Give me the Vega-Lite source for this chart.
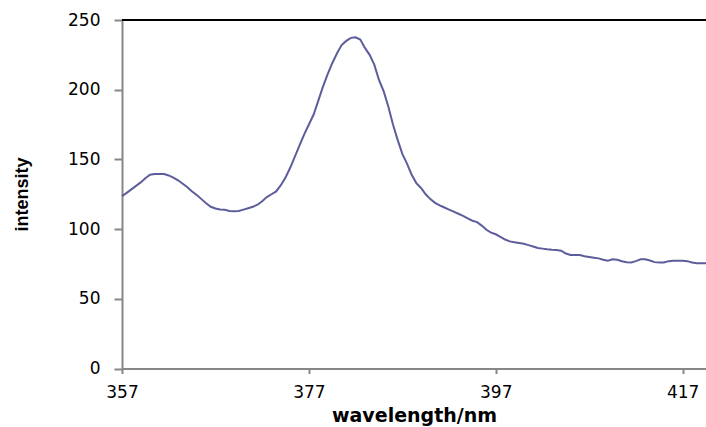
{
  "$schema": "https://vega.github.io/schema/vega-lite/v6.json",
  "width": 584,
  "height": 348.5,
  "autosize": {"type": "none"},
  "padding": {"left": 122, "top": 20, "right": 0, "bottom": 58},
  "background": "white",
  "config": {
    "view": {"stroke": null},
    "axis": {
      "grid": false,
      "domainColor": "#878787",
      "domainWidth": 2,
      "tickColor": "#878787",
      "tickWidth": 2,
      "labelFont": "DejaVu Sans",
      "labelFontSize": 17,
      "labelColor": "black",
      "titleColor": "black"
    }
  },
  "data": {
    "values": [
      {"wavelength": 357, "intensity": 123.7},
      {"wavelength": 357.5, "intensity": 126},
      {"wavelength": 358, "intensity": 128.5},
      {"wavelength": 358.5, "intensity": 131},
      {"wavelength": 359, "intensity": 133.5},
      {"wavelength": 359.5, "intensity": 136.5},
      {"wavelength": 360, "intensity": 139},
      {"wavelength": 360.5, "intensity": 139.5},
      {"wavelength": 361, "intensity": 139.5},
      {"wavelength": 361.5, "intensity": 139.5},
      {"wavelength": 362, "intensity": 138.5},
      {"wavelength": 362.5, "intensity": 137},
      {"wavelength": 363, "intensity": 135},
      {"wavelength": 363.5, "intensity": 132.5},
      {"wavelength": 364, "intensity": 130},
      {"wavelength": 364.5, "intensity": 127},
      {"wavelength": 365, "intensity": 124.5},
      {"wavelength": 365.5, "intensity": 121.5},
      {"wavelength": 366, "intensity": 118.5},
      {"wavelength": 366.5, "intensity": 116},
      {"wavelength": 367, "intensity": 114.8},
      {"wavelength": 367.5, "intensity": 114},
      {"wavelength": 368, "intensity": 113.8},
      {"wavelength": 368.5, "intensity": 113},
      {"wavelength": 369, "intensity": 112.8},
      {"wavelength": 369.5, "intensity": 113},
      {"wavelength": 370, "intensity": 114},
      {"wavelength": 370.5, "intensity": 115},
      {"wavelength": 371, "intensity": 116},
      {"wavelength": 371.5, "intensity": 117.5},
      {"wavelength": 372, "intensity": 120},
      {"wavelength": 372.5, "intensity": 123},
      {"wavelength": 373, "intensity": 125},
      {"wavelength": 373.5, "intensity": 127},
      {"wavelength": 374, "intensity": 131.5},
      {"wavelength": 374.5, "intensity": 137},
      {"wavelength": 375, "intensity": 144},
      {"wavelength": 375.5, "intensity": 152},
      {"wavelength": 376, "intensity": 160},
      {"wavelength": 376.5, "intensity": 168},
      {"wavelength": 377, "intensity": 175},
      {"wavelength": 377.5, "intensity": 182},
      {"wavelength": 378, "intensity": 192},
      {"wavelength": 378.5, "intensity": 202},
      {"wavelength": 379, "intensity": 211},
      {"wavelength": 379.5, "intensity": 219},
      {"wavelength": 380, "intensity": 226},
      {"wavelength": 380.5, "intensity": 232},
      {"wavelength": 381, "intensity": 235},
      {"wavelength": 381.5, "intensity": 237.2},
      {"wavelength": 382, "intensity": 237.6},
      {"wavelength": 382.5, "intensity": 236},
      {"wavelength": 383, "intensity": 230},
      {"wavelength": 383.5, "intensity": 225},
      {"wavelength": 384, "intensity": 218},
      {"wavelength": 384.5, "intensity": 207},
      {"wavelength": 385, "intensity": 199},
      {"wavelength": 385.5, "intensity": 188},
      {"wavelength": 386, "intensity": 175},
      {"wavelength": 386.5, "intensity": 164},
      {"wavelength": 387, "intensity": 154},
      {"wavelength": 387.5, "intensity": 147},
      {"wavelength": 388, "intensity": 139},
      {"wavelength": 388.5, "intensity": 133},
      {"wavelength": 389, "intensity": 129.5},
      {"wavelength": 389.5, "intensity": 125},
      {"wavelength": 390, "intensity": 121.5},
      {"wavelength": 390.5, "intensity": 118.8},
      {"wavelength": 391, "intensity": 117},
      {"wavelength": 391.5, "intensity": 115.5},
      {"wavelength": 392, "intensity": 114},
      {"wavelength": 392.5, "intensity": 112.5},
      {"wavelength": 393, "intensity": 111},
      {"wavelength": 393.5, "intensity": 109.5},
      {"wavelength": 394, "intensity": 107.7},
      {"wavelength": 394.5, "intensity": 106},
      {"wavelength": 395, "intensity": 105},
      {"wavelength": 395.5, "intensity": 102.5},
      {"wavelength": 396, "intensity": 99.5},
      {"wavelength": 396.5, "intensity": 97.5},
      {"wavelength": 397, "intensity": 96.3},
      {"wavelength": 397.5, "intensity": 94.5},
      {"wavelength": 398, "intensity": 92.5},
      {"wavelength": 398.5, "intensity": 91.2},
      {"wavelength": 399, "intensity": 90.5},
      {"wavelength": 399.5, "intensity": 90},
      {"wavelength": 400, "intensity": 89.5},
      {"wavelength": 400.5, "intensity": 88.5},
      {"wavelength": 401, "intensity": 87.5},
      {"wavelength": 401.5, "intensity": 86.5},
      {"wavelength": 402, "intensity": 86},
      {"wavelength": 402.5, "intensity": 85.5},
      {"wavelength": 403, "intensity": 85.2},
      {"wavelength": 403.5, "intensity": 85},
      {"wavelength": 404, "intensity": 84.5},
      {"wavelength": 404.5, "intensity": 82.5},
      {"wavelength": 405, "intensity": 81.5},
      {"wavelength": 405.5, "intensity": 81.5},
      {"wavelength": 406, "intensity": 81.4},
      {"wavelength": 406.5, "intensity": 80.5},
      {"wavelength": 407, "intensity": 80},
      {"wavelength": 407.5, "intensity": 79.5},
      {"wavelength": 408, "intensity": 79},
      {"wavelength": 408.5, "intensity": 78},
      {"wavelength": 409, "intensity": 77.3},
      {"wavelength": 409.5, "intensity": 78.3},
      {"wavelength": 410, "intensity": 78},
      {"wavelength": 410.5, "intensity": 77},
      {"wavelength": 411, "intensity": 76.2},
      {"wavelength": 411.5, "intensity": 76},
      {"wavelength": 412, "intensity": 77},
      {"wavelength": 412.5, "intensity": 78.3},
      {"wavelength": 413, "intensity": 78.3},
      {"wavelength": 413.5, "intensity": 77.5},
      {"wavelength": 414, "intensity": 76.3},
      {"wavelength": 414.5, "intensity": 76},
      {"wavelength": 415, "intensity": 76},
      {"wavelength": 415.5, "intensity": 77},
      {"wavelength": 416, "intensity": 77.3},
      {"wavelength": 416.5, "intensity": 77.3},
      {"wavelength": 417, "intensity": 77.3},
      {"wavelength": 417.5, "intensity": 77},
      {"wavelength": 418, "intensity": 76},
      {"wavelength": 418.5, "intensity": 75.5},
      {"wavelength": 419, "intensity": 75.5},
      {"wavelength": 419.5, "intensity": 75.5}
    ]
  },
  "layer": [
    {
      "mark": {"type": "line", "color": "#5d5d9c", "strokeWidth": 2},
      "encoding": {
        "x": {
          "field": "wavelength",
          "type": "quantitative",
          "scale": {"domain": [357, 419.5], "nice": false, "zero": false},
          "axis": {
            "values": [357, 377, 397, 417],
            "tickSize": 5,
            "labelPadding": 11,
            "labelFlush": false,
            "title": "wavelength/nm",
            "titleFont": "DejaVu Sans",
            "titleFontSize": 19,
            "titleFontWeight": "bold",
            "titleBaseline": "alphabetic",
            "titleY": 53
          }
        },
        "y": {
          "field": "intensity",
          "type": "quantitative",
          "scale": {"domain": [0, 250], "nice": false},
          "axis": {
            "values": [0, 50, 100, 150, 200, 250],
            "tickSize": 8,
            "labelPadding": 14,
            "title": "intensity",
            "titleFont": "Liberation Sans",
            "titleFontSize": 18,
            "titleFontWeight": "bold",
            "titleAngle": -90,
            "titleAlign": "center",
            "titleBaseline": "middle",
            "titleX": -100,
            "titleY": 174
          }
        }
      }
    },
    {
      "mark": {"type": "rule", "color": "black", "strokeWidth": 2},
      "encoding": {"y": {"datum": 250}}
    }
  ]
}
